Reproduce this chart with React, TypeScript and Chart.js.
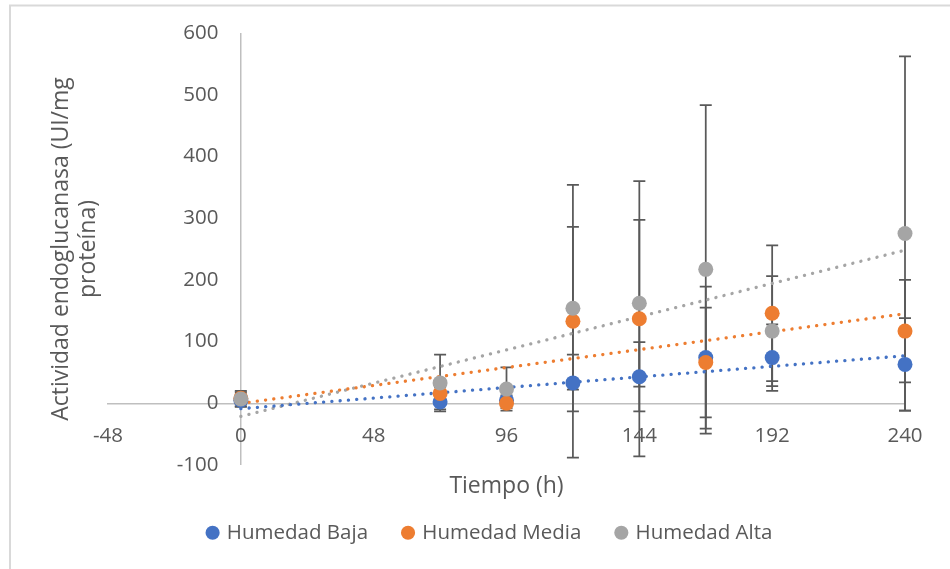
import React, { useEffect, useRef } from "react";
import { Chart, registerables } from "chart.js";

Chart.register(...registerables);

// ---- data ----
const hours = [0, 72, 96, 120, 144, 168, 192, 240];
const seriesNames = ["Humedad Baja", "Humedad Media", "Humedad Alta"];
const baja = [5, 2, 5, 33, 43, 74, 74, 63];
const bajaErr = [10, 12, 8, 46, 56, 115, 54, 75];
const media = [8, 16, 0, 133, 137, 66, 146, 117];
const mediaErr = [10, 10, 8, 221, 223, 89, 110, 83];
const alta = [7, 33, 23, 154, 162, 217, 117, 275];
const altaErr = [13, 46, 35, 132, 135, 266, 89, 287];
const colors = ["#4472C4", "#ED7D31", "#A5A5A5"];
const xTitle = "Tiempo (h)";
const yTitle = ["Actividad endoglucanasa (UI/mg", "proteína)"];
const xMin = -48, xMax = 240, xStep = 48;
const yMin = -100, yMax = 600, yStep = 100;

const seriesValues = [baja, media, alta];
const seriesErrors = [bajaErr, mediaErr, altaErr];

function linearFit(xs: number[], ys: number[]) {
  const n = xs.length;
  const mx = xs.reduce((a, b) => a + b, 0) / n;
  const my = ys.reduce((a, b) => a + b, 0) / n;
  let sxy = 0, sxx = 0;
  for (let i = 0; i < n; i++) {
    sxy += (xs[i] - mx) * (ys[i] - my);
    sxx += (xs[i] - mx) * (xs[i] - mx);
  }
  const slope = sxy / sxx;
  return { slope, intercept: my - slope * mx };
}

const FONT = "'Open Sans', 'Noto Sans', sans-serif";
const TEXT = "#595959";
const AXIS = "#BFBFBF";
// y tick labels sit this many x-units left of the vertical axis (≈22px gap)
const yLabelGapUnits = 8.1;

const zeroPad = (s: any) => {
  s.paddingLeft = 0;
  s.paddingRight = 0;
  s.paddingTop = 0;
  s.paddingBottom = 0;
};

const errorBarPlugin = {
  id: "errorBars",
  beforeDatasetsDraw(chart: any) {
    const { ctx } = chart;
    const xs = chart.scales.x;
    const ys = chart.scales.y;
    ctx.save();
    ctx.strokeStyle = "#595959";
    ctx.lineWidth = 1.75;
    seriesValues.forEach((vals, si) => {
      vals.forEach((v, j) => {
        const e = seriesErrors[si][j];
        const px = xs.getPixelForValue(hours[j]);
        const top = ys.getPixelForValue(v + e);
        const bot = ys.getPixelForValue(v - e);
        ctx.beginPath();
        ctx.moveTo(px, top);
        ctx.lineTo(px, bot);
        ctx.moveTo(px - 6, top);
        ctx.lineTo(px + 6, top);
        ctx.moveTo(px - 6, bot);
        ctx.lineTo(px + 6, bot);
        ctx.stroke();
      });
    });
    ctx.restore();
  },
};

const framePlugin = {
  id: "frame",
  beforeDraw(chart: any) {
    const { ctx, width, height } = chart;
    ctx.save();
    ctx.fillStyle = "#FFFFFF";
    ctx.fillRect(0, 0, width, height);
    ctx.strokeStyle = "#D9D9D9";
    ctx.lineWidth = 2;
    ctx.beginPath();
    ctx.moveTo(10, height + 2);
    ctx.lineTo(10, 5.5);
    ctx.lineTo(width + 2, 5.5);
    ctx.stroke();
    ctx.restore();
  },
};

export default function App() {
  const ref = useRef<HTMLCanvasElement | null>(null);

  useEffect(() => {
    if (!ref.current) return;

    const scatterSets = seriesValues.map((vals, i) => ({
      label: seriesNames[i],
      data: vals.map((v, j) => ({ x: hours[j], y: v })),
      xAxisID: "x",
      yAxisID: "y",
      backgroundColor: colors[i],
      borderColor: colors[i],
      borderWidth: 0,
      pointStyle: "circle",
      pointRadius: 7.5,
      pointHoverRadius: 7.5,
      pointBorderWidth: 0,
      showLine: false,
      clip: false,
      order: 3 - i,
    }));

    const trendSets = seriesValues.map((vals, i) => {
      const { slope, intercept } = linearFit(hours, vals);
      const x0 = hours[0];
      const x1 = hours[hours.length - 1];
      return {
        label: seriesNames[i] + " (tendencia)",
        data: [
          { x: x0, y: intercept + slope * x0 },
          { x: x1, y: intercept + slope * x1 },
        ],
        xAxisID: "x",
        yAxisID: "y",
        showLine: true,
        borderColor: colors[i],
        backgroundColor: colors[i],
        borderWidth: 3.3,
        borderDash: [0.1, 8.2],
        borderCapStyle: "round",
        pointRadius: 0,
        pointHoverRadius: 0,
        clip: false,
        order: 10 + i,
      };
    });

    const chart = new Chart(ref.current, {
      type: "scatter",
      data: { datasets: [...scatterSets, ...trendSets] as any },
      plugins: [framePlugin, errorBarPlugin],
      options: {
        responsive: false,
        animation: false,
        events: [],
        layout: { padding: { left: 76, right: 45, top: 33, bottom: 16 } },
        plugins: {
          tooltip: { enabled: false },
          legend: {
            position: "bottom",
            labels: {
              usePointStyle: true,
              boxWidth: 8,
              boxHeight: 10,
              padding: 36,
              color: TEXT,
              font: { family: FONT, size: 20.5 },
              filter: (item: any) => item.datasetIndex < seriesNames.length,
              sort: (a: any, b: any) => a.datasetIndex - b.datasetIndex,
            },
          },
        },
        scales: {
          x: {
            type: "linear",
            axis: "x",
            position: { y: 0 } as any,
            min: xMin,
            max: xMax,
            afterFit: (s: any) => {
              s.height = 0;
              zeroPad(s);
            },
            ticks: {
              stepSize: xStep,
              padding: 21,
              color: TEXT,
              font: { family: FONT, size: 20.5 },
              maxRotation: 0,
            },
            grid: {
              display: true,
              drawTicks: false,
              lineWidth: 1.5,
              color: (c: any) => (c.tick && c.tick.value === 0 ? AXIS : "rgba(0,0,0,0)"),
            },
            border: { display: true, color: AXIS, width: 1.5 },
          },
          y: {
            type: "linear",
            axis: "y",
            position: { x: -yLabelGapUnits } as any,
            min: yMin,
            max: yMax,
            afterFit: (s: any) => {
              s.width = 0;
              zeroPad(s);
            },
            ticks: {
              stepSize: yStep,
              padding: 0,
              color: TEXT,
              font: { family: FONT, size: 20.5 },
            },
            grid: { display: true, color: "rgba(0,0,0,0)", drawTicks: false },
            border: { display: false },
          },
          xt: {
            type: "linear",
            axis: "x",
            position: "bottom",
            min: 0,
            max: 1,
            afterFit: (s: any) => {
              s.height = 21.5;
              zeroPad(s);
            },
            ticks: { display: false },
            grid: { display: false, drawTicks: false },
            border: { display: false },
            title: {
              display: true,
              text: xTitle,
              color: TEXT,
              font: { family: FONT, size: 23 },
              padding: { top: 0, bottom: -14 },
            },
          },
          yt: {
            type: "linear",
            axis: "y",
            position: "left",
            min: 0,
            max: 1,
            afterFit: (s: any) => {
              s.width = 32;
              zeroPad(s);
            },
            ticks: { display: false },
            grid: { display: false, drawTicks: false },
            border: { display: false },
            title: {
              display: true,
              text: yTitle,
              color: TEXT,
              font: { family: FONT, size: 23 },
              padding: { top: -28.6, bottom: 0 },
            },
          },
        } as any,
      },
    });

    return () => chart.destroy();
  }, []);

  return (
    <div style={{ position: "absolute", left: 0, top: 0, width: 950, height: 569, background: "#fff" }}>
      <canvas ref={ref} width={950} height={569} style={{ display: "block" }} />
    </div>
  );
}
